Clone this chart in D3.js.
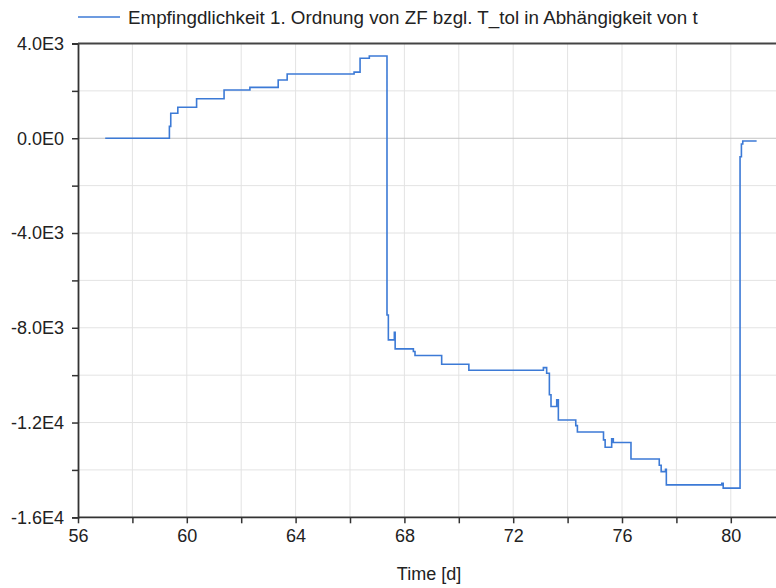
<html>
<head>
<meta charset="utf-8">
<script src="https://d3js.org/d3.v7.min.js"></script>
<style>
  body { margin: 0; background: #fff; }
  text { font-family: "Liberation Sans", Arial, sans-serif; fill: #222; }
  .grid line { stroke: #e3e3e3; stroke-width: 1; }
  .line { fill: none; stroke: #3c7ad6; stroke-width: 1.6px; }
</style>
</head>
<body>
<script>
// time [d] and value of each step (the value holds until the next time)
var times = [57.0, 59.36, 59.41, 59.67, 60.36, 61.37, 62.32, 63.36, 63.69, 66.15, 66.37, 66.71,
  67.36, 67.41, 67.63, 67.66, 68.33, 68.39, 69.37, 70.37, 73.11, 73.23, 73.33, 73.39, 73.6, 73.66,
  74.30, 74.36, 75.32, 75.38, 75.62, 75.68, 76.33, 77.37, 77.44, 77.6, 77.63, 79.67, 79.72,
  80.34, 80.39, 80.44, 80.95];
var values = [0, 500, 1055, 1310, 1670, 2040, 2150, 2460, 2710, 2790, 3380, 3470,
  -7460, -8510, -8190, -8890, -9000, -9170, -9540, -9790, -9680, -9920, -10830, -11320, -11040, -11890,
  -12130, -12400, -12730, -13040, -12690, -12840, -13540, -13800, -14070, -13970, -14630, -14560, -14770,
  -780, -240, -115, -115];

var xTicks = [56, 60, 64, 68, 72, 76, 80];
var yTicks = [4000, 0, -4000, -8000, -12000, -16000];
var yTickLabels = ["4.0E3", "0.0E0", "-4.0E3", "-8.0E3", "-1.2E4", "-1.6E4"];
var legendLabel = "Empfingdlichkeit 1. Ordnung von ZF bzgl. T_tol in Abhängigkeit von t";
var xLabel = "Time [d]";

var W = 776, H = 588;
var pLeft = 78, pTop = 43.5, pBottom = 517.3;

var x = d3.scaleLinear().domain([56, 82]).range([pLeft, pLeft + 26 * 27.2]);
var y = d3.scaleLinear().domain([-16000, 4000]).range([pBottom, pTop]);

var svg = d3.select("body").append("svg")
  .attr("width", W).attr("height", H);

// grid
var grid = svg.append("g").attr("class", "grid");
grid.selectAll(".gx").data(d3.range(58, 82, 2)).enter().append("line")
  .attr("x1", function(d){ return x(d); }).attr("x2", function(d){ return x(d); })
  .attr("y1", pTop).attr("y2", pBottom);
grid.selectAll(".gy").data(d3.range(-14000, 4000, 2000)).enter().append("line")
  .attr("x1", pLeft).attr("x2", W)
  .attr("y1", function(d){ return y(d); }).attr("y2", function(d){ return y(d); })
  .style("stroke", function(d){ return d === 0 ? "#c4c4c4" : null; });

// axes
var xAxis = d3.axisBottom(x).tickValues(d3.range(56, 82, 2)).tickSize(6)
  .tickFormat(function(d){ return xTicks.indexOf(d) >= 0 ? d : ""; });
var gx = svg.append("g").attr("transform", "translate(0," + pBottom + ")").call(xAxis);
gx.select(".domain").attr("d", "M" + pLeft + ",0H" + W);

var yAxis = d3.axisLeft(y).tickValues(d3.range(-16000, 4001, 2000)).tickSize(6)
  .tickFormat(function(d){ var i = yTicks.indexOf(d); return i >= 0 ? yTickLabels[i] : ""; });
var gy = svg.append("g").attr("transform", "translate(" + pLeft + ",0)").call(yAxis);

[gx, gy].forEach(function(g){
  g.selectAll(".domain").attr("stroke", "#333").attr("stroke-width", 1.8);
  g.selectAll(".tick line").attr("stroke", "#333").attr("stroke-width", 1.5);
  g.selectAll("text").attr("fill", "#222").style("font-size", "18px")
    .style("font-family", "'Liberation Sans', Arial, sans-serif");
});
gx.selectAll("text").attr("y", 12).attr("dy", "0.71em");
gy.selectAll("text").attr("x", -14);

// top border
svg.append("line").attr("x1", pLeft).attr("x2", W).attr("y1", pTop).attr("y2", pTop)
  .attr("stroke", "#444").attr("stroke-width", 1.8);

// data line
var data = times.map(function(t, i){ return {t: t, v: values[i]}; });
var line = d3.line().curve(d3.curveStepAfter)
  .x(function(d){ return x(d.t); }).y(function(d){ return y(d.v); });
svg.append("path").datum(data).attr("class", "line").attr("d", line);

// legend
svg.append("line").attr("x1", 78).attr("x2", 120).attr("y1", 17).attr("y2", 17)
  .attr("stroke", "#3c7ad6").attr("stroke-width", 1.6);
svg.append("text").attr("x", 128).attr("y", 24).style("font-size", "18.8px").text(legendLabel);

// x label
svg.append("text").attr("x", 429).attr("y", 580).attr("text-anchor", "middle")
  .style("font-size", "18px").text(xLabel);
</script>
</body>
</html>
